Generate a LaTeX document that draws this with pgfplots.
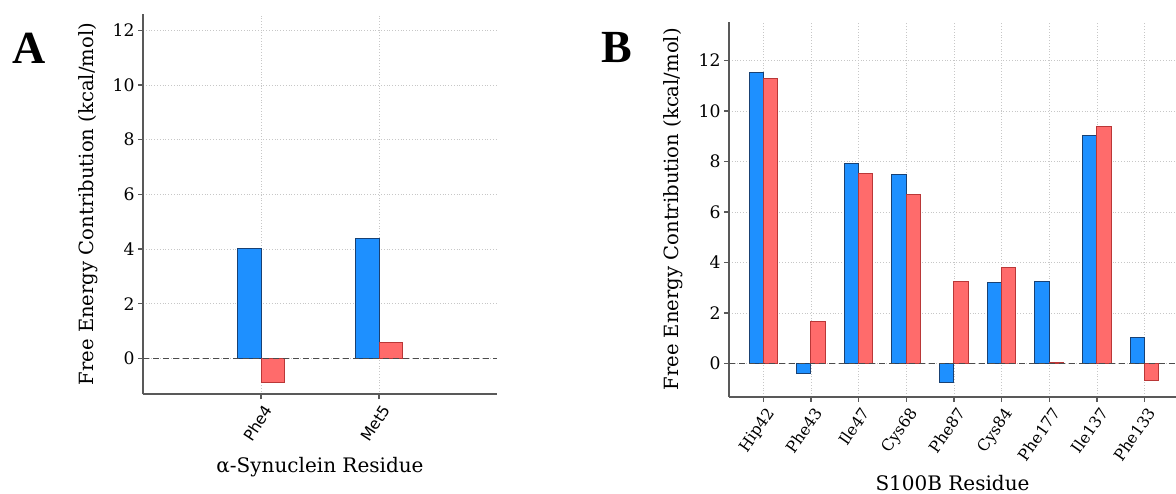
\documentclass[border=0pt]{standalone}
\usepackage{fontspec}
\setmainfont{DejaVu Serif}
\newfontfamily\sansf{DejaVu Sans}
\newfontfamily\lettf{Liberation Serif}
\usepackage{pgfplots}
\pgfplotsset{compat=1.18}
\definecolor{barblue}{RGB}{30,144,255}
\definecolor{barred}{RGB}{255,107,107}
\definecolor{edgeblue}{RGB}{25,65,115}
\definecolor{edgered}{RGB}{185,55,55}
\pgfplotsset{panel/.style={
  scale only axis,
  axis x line*=bottom, axis y line*=left,
  axis line style={draw=black!65, line width=0.9pt},
  ymajorgrids, xmajorgrids,
  grid style={densely dotted, draw=black!22, line width=0.4pt},
  ytick={0,2,...,12},
  tick align=outside,
  major tick length=2.5pt,
  tick style={draw=black!65, line width=0.6pt},
  /pgf/number format/assume math mode=true,
  yticklabel style={font=\fontsize{8.6}{9}\selectfont, inner sep=1.5pt},
  ylabel style={font=\fontsize{9.8}{11}\selectfont},
  xlabel style={font=\fontsize{10}{11}\selectfont},
  clip=true,
}}
\begin{document}
\begin{tikzpicture}
\useasboundingbox (0,0) rectangle (588pt,246.5pt);
% panel letters
\node[font=\lettf\bfseries\fontsize{23}{25}\selectfont] at (14.5pt,222.5pt) {A};
\node[font=\lettf\bfseries\fontsize{23}{25}\selectfont] at (308.5pt,222.5pt) {B};
% Panel A
\begin{axis}[panel,
  at={(71.5pt,49.35pt)}, anchor=south west,
  width=177pt, height=190.15pt,
  xmin=-1, xmax=2, ymin=-1.317, ymax=12.6,
  xtick={0,1}, xticklabels={Phe4,Met5},
  xticklabel style={font=\sansf\fontsize{7.8}{8}\selectfont, rotate=57, anchor=north east, inner sep=1pt, yshift=-1pt},
  ylabel={Free Energy Contribution (kcal/mol)},
  ylabel style={at={(axis description cs:0,0.5)}, anchor=center, yshift=27.5pt},
  xlabel={α-Synuclein Residue},
  xlabel style={at={(axis description cs:0.5,0)}, anchor=center, yshift=-36.3pt},
]
\addplot[ybar, bar width=0.2, bar shift=-0.1, fill=barblue, draw=edgeblue, line width=0.5pt]
  coordinates {(0,4.02) (1,4.37)};
\addplot[ybar, bar width=0.2, bar shift=0.1, fill=barred, draw=edgered, line width=0.5pt]
  coordinates {(0,-0.89) (1,0.58)};
\addplot[sharp plot, draw=black!70, line width=0.75pt, dash pattern=on 3pt off 2pt]
  coordinates {(-1,0) (2,0)};
\end{axis}
% Panel B
\begin{axis}[panel,
  at={(364.5pt,48.15pt)}, anchor=south west,
  width=223.5pt, height=187.35pt,
  xmin=-0.72, xmax=8.66, ymin=-1.32, ymax=13.53,
  xtick={0,...,8},
  xticklabels={Hip42,Phe43,Ile47,Cys68,Phe87,Cys84,Phe177,Ile137,Phe133},
  xticklabel style={font=\fontsize{7.9}{8}\selectfont, rotate=55, anchor=north east, inner sep=1pt, yshift=-1pt},
  ylabel={Free Energy Contribution (kcal/mol)},
  ylabel style={at={(axis description cs:0,0.5)}, anchor=center, yshift=28pt},
  xlabel={S100B Residue},
  xlabel style={at={(axis description cs:0.5,0)}, anchor=center, yshift=-43pt},
]
\addplot[ybar, bar width=0.3, bar shift=-0.15, fill=barblue, draw=edgeblue, line width=0.5pt]
  coordinates {(0,11.52) (1,-0.42) (2,7.93) (3,7.47) (4,-0.77) (5,3.20) (6,3.26) (7,9.05) (8,1.03)};
\addplot[ybar, bar width=0.3, bar shift=0.15, fill=barred, draw=edgered, line width=0.5pt]
  coordinates {(0,11.30) (1,1.68) (2,7.51) (3,6.69) (4,3.26) (5,3.82) (6,0.02) (7,9.38) (8,-0.66)};
\addplot[sharp plot, draw=black!70, line width=0.75pt, dash pattern=on 3pt off 2pt]
  coordinates {(-0.72,0) (8.66,0)};
\end{axis}
\end{tikzpicture}
\end{document}
